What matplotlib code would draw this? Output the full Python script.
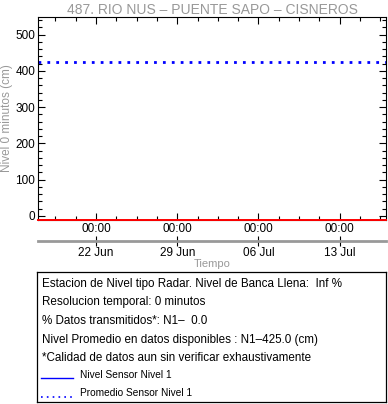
import datetime as dt
import matplotlib
matplotlib.use("Agg")
import matplotlib.pyplot as plt
import matplotlib.dates as mdates

plt.rcParams['font.family'] = ['Liberation Sans', 'DejaVu Sans']

# data
start = dt.datetime(2024, 6, 17)
end = dt.datetime(2024, 7, 17)
tick_days = [dt.datetime(2024, 6, 22), dt.datetime(2024, 6, 29),
             dt.datetime(2024, 7, 6), dt.datetime(2024, 7, 13)]
tick_hours = ['00:00', '00:00', '00:00', '00:00']
tick_dates = ['22 Jun', '29 Jun', '06 Jul', '13 Jul']
promedio = [425.0, 425.0]
nivel_ref = [-10.0, -10.0]
y_lim = (-10, 550)
y_ticks = [0, 100, 200, 300, 400, 500]

title = '487. RIO NUS \u2013 PUENTE SAPO \u2013 CISNEROS'
info_lines = [
    'Estacion de Nivel tipo Radar. Nivel de Banca Llena:  Inf %',
    'Resolucion temporal: 0 minutos',
    '% Datos transmitidos*: N1\u2013  0.0',
    'Nivel Promedio en datos disponibles : N1\u2013425.0 (cm)',
    '*Calidad de datos aun sin verificar exhaustivamente',
]
legend_labels = ['Nivel Sensor Nivel 1', 'Promedio Sensor Nivel 1']

W, H = 388, 404
fig = plt.figure(figsize=(W / 100, H / 100), dpi=100)

def box(x0, y0, x1, y1):
    return [x0 / W, 1 - y1 / H, (x1 - x0) / W, (y1 - y0) / H]

gray = '#999999'

ax = fig.add_axes(box(38, 16.5, 386, 219.5))
ax.plot([start, end], nivel_ref, color='red', lw=1.4, clip_on=False, zorder=3)
ax.plot([start, end], promedio, color='blue', lw=2, ls=(0, (1, 2.2)))
ax.set_yticks(y_ticks)
ax.yaxis.set_minor_locator(matplotlib.ticker.MultipleLocator(20))
ax.set_xticks(tick_days)
ax.set_xticklabels(tick_hours)
minor_x = [mdates.date2num(tick_days[0]) + i * 1.75 for i in range(-2, 15)]
ax.set_xticks(minor_x, minor=True)
ax.set_xlim(start, end)
ax.set_ylim(*y_lim)
ax.tick_params(which='both', direction='in', top=True, right=True, labelsize=8.5,
               width=0.8, color='black')
ax.tick_params(which='major', length=5)
ax.tick_params(which='minor', length=3)
ax.tick_params(axis='x', pad=2.5)
ax.tick_params(axis='y', pad=2)
for s in ax.spines.values():
    s.set_linewidth(0.8)
ax.set_title(title, color=gray, fontsize=10, pad=2)
ax.set_ylabel('Nivel 0 minutos (cm)', color=gray, fontsize=8.5, labelpad=2)

# secondary date axis
ax2 = fig.add_axes(box(38, 230, 386, 241))
ax2.set_xticks(tick_days)
ax2.set_xticklabels(tick_dates)
ax2.set_xlim(start, end)
ax2.patch.set_visible(False)
for k in ['top', 'left', 'right']:
    ax2.spines[k].set_visible(False)
ax2.spines['bottom'].set_color(gray)
ax2.spines['bottom'].set_linewidth(2)
ax2.set_yticks([])
ax2.tick_params(axis='x', direction='inout', length=7, width=0.8, color='black',
                labelsize=8.5, pad=0.5)
ax2.set_xlabel('Tiempo', color=gray, fontsize=8, labelpad=0)

# info box
bx = fig.add_axes(box(37, 272, 386, 402))
bx.set_xlim(0, 349)
bx.set_ylim(130, 0)
bx.set_xticks([])
bx.set_yticks([])
for s in bx.spines.values():
    s.set_linewidth(0.9)
for i, line in enumerate(info_lines):
    bx.text(5, 12 + i * 18.5, line, fontsize=8.4, va='center', ha='left')
leg_styles = [dict(color='blue', lw=1), dict(color='blue', lw=1.2, ls=(0, (1, 2.5)))]
for i, (lab, st) in enumerate(zip(legend_labels, leg_styles)):
    yy = 103 + i * 18.5
    bx.plot([4, 36], [yy + 3, yy + 3], **st)
    bx.text(43, yy, lab, fontsize=7.3, va='center', ha='left')

fig.savefig('out.png', dpi=100)
